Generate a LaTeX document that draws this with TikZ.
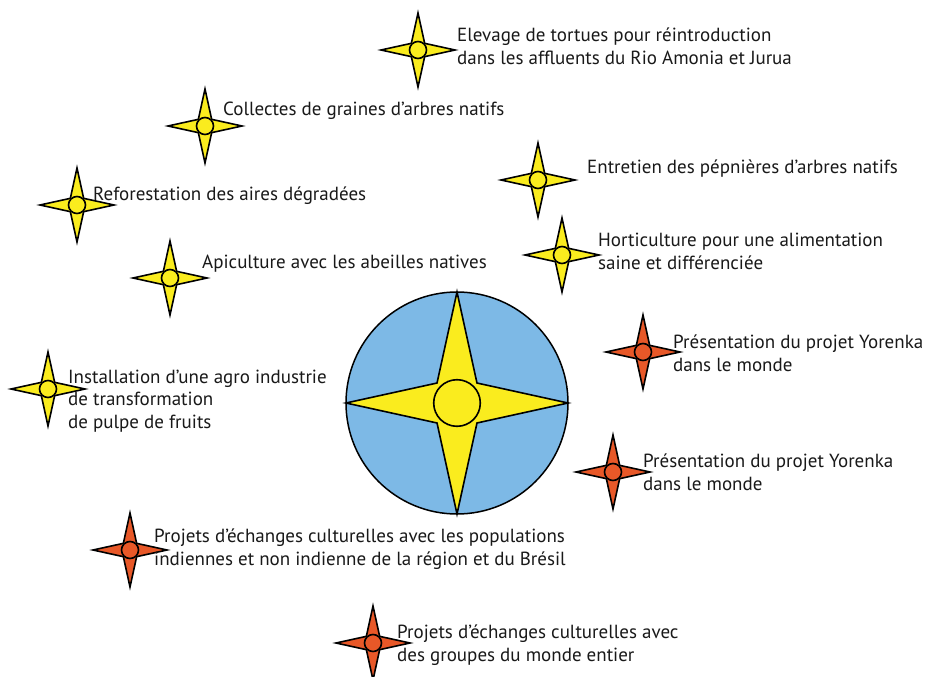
\documentclass[tikz,border=0pt]{standalone}
\usepackage{fontspec}
\setmainfont{PT Sans}
\definecolor{skyb}{RGB}{125,185,230}
\definecolor{stary}{RGB}{250,236,30}
\definecolor{staro}{RGB}{232,88,40}
\tikzset{
  pics/compass/.style 2 args={code={
    \draw[line width=1.6pt, line join=miter, fill=#1]
      (0,1) -- (0.18,0.18) -- (1,0) -- (0.18,-0.18) -- (0,-1)
      -- (-0.18,-0.18) -- (-1,0) -- (-0.18,0.18) -- cycle;
    \draw[line width=1.6pt, fill=#1] (0,0) circle (#2);
  }},
  lbl/.style={anchor=base west, align=left, inner sep=0pt,
    font=\fontsize{19}{22.5}\selectfont, text=black!90},
}
\begin{document}
\begin{tikzpicture}[x=1pt,y=-1pt]
\useasboundingbox[fill=white] (0,0) rectangle (926,677);
% centre
\coordinate (c0) at (457,403);
\draw[line width=1.5pt, fill=skyb] (c0) circle (111);
\pic[scale=111] at (c0) {compass={stary}{0.21}};
% star centres
\coordinate (s1) at (418,50);
\coordinate (s2) at (205,126);
\coordinate (s3) at (77,205);
\coordinate (s4) at (170,278);
\coordinate (s5) at (48,389);
\coordinate (s6) at (538,180);
\coordinate (s7) at (562,255);
\coordinate (s8) at (643,352);
\coordinate (s9) at (613,472);
\coordinate (s10) at (130,550);
\coordinate (s11) at (373,643);
\foreach \s in {s1,s2,s3,s4,s5,s6,s7}{\pic[scale=37] at (\s) {compass={stary}{0.23}};}
\foreach \s in {s8,s9,s10,s11}{\pic[scale=37] at (\s) {compass={staro}{0.23}};}
% labels (anchor = baseline of the last line)
\node[lbl] (t1) at (457,64) {Elevage de tortues pour réintroduction\\dans les affluents du Rio Amonia et Jurua};
\node[lbl] (t2) at (223,115) {Collectes de graines d’arbres natifs};
\node[lbl] (t3) at (93,200) {Reforestation des aires dégradées};
\node[lbl] (t4) at (202,268) {Apiculture avec les abeilles natives};
\node[lbl] (t5) at (68,428) {Installation d’une agro industrie\\de transformation\\de pulpe de fruits};
\node[lbl] (t6) at (587,173) {Entretien des pépnières d’arbres natifs};
\node[lbl] (t7) at (598,269) {Horticulture pour une alimentation\\saine et différenciée};
\node[lbl] (t8) at (673,371) {Présentation du projet Yorenka\\dans le monde};
\node[lbl] (t9) at (643,490) {Présentation du projet Yorenka\\dans le monde};
\node[lbl] (t10) at (154,565) {Projets d’échanges culturelles avec les populations\\indiennes et non indienne de la région et du Brésil};
\node[lbl] (t11) at (397,661) {Projets d’échanges culturelles avec\\des groupes du monde entier};
\end{tikzpicture}
\end{document}
